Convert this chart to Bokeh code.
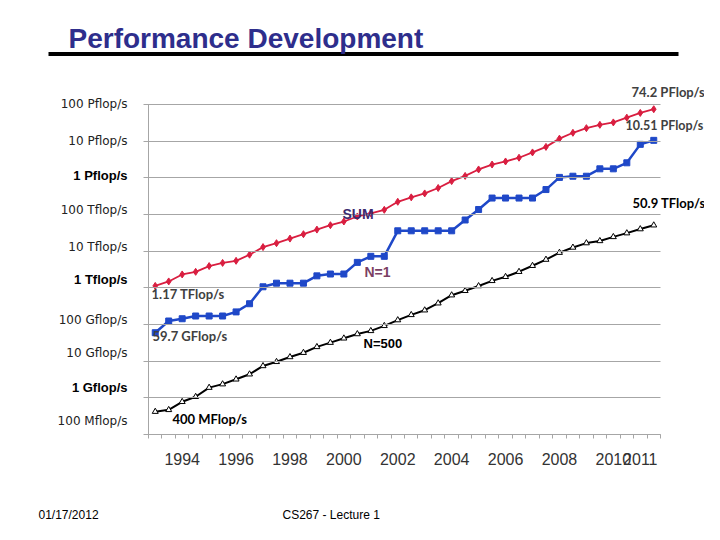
from bokeh.plotting import figure
from bokeh.models import Label, BoxAnnotation, FixedTicker, CustomJSTickFormatter, Range1d
from bokeh.embed import file_html
from bokeh.resources import INLINE

# TOP500 lists (June / November), 1993 - 2011
lists = [f"{y}-{m}" for y in range(1993, 2012) for m in ("06", "11")]

# Performance in Gflop/s
sum_gf = [1128, 1493, 2317, 2732, 3923, 4784, 5446, 7996, 12893, 16500,
          22000, 29000, 38700, 51000, 64300, 88100, 108000, 134000, 222000, 293000,
          375000, 528000, 813000, 1127000, 1690000, 2300000, 2790000, 3530000, 4920000, 6970000,
          11700000, 16900000, 22600000, 27900000, 32400000, 43700000, 58900000, 74200000]
n1_gf = [59.7, 124.5, 143.4, 170.4, 170.4, 170.4, 220.4, 368.2, 1068, 1338,
         1338, 1338, 2121, 2379, 2379, 4938, 7226, 7226, 35860, 35860,
         35860, 35860, 35860, 70720, 136800, 280600, 280600, 280600, 280600, 478200,
         1026000, 1105000, 1105000, 1759000, 1759000, 2566000, 8162000, 10510000]
n500_gf = [0.42, 0.47, 0.78, 1.07, 1.9, 2.36, 3.2, 4.4, 7.4, 9.6,
           13, 17, 24.5, 32, 42, 55, 67, 92, 132, 183,
           245, 380, 630, 830, 1120, 1550, 2000, 2750, 4000, 5900,
           9100, 12600, 16600, 19000, 24500, 31000, 40000, 50900]

year_tick_idx = [2, 6, 10, 14, 18, 22, 26, 30, 34, 36]
year_labels = ["1994", "1996", "1998", "2000", "2002", "2004", "2006", "2008", "2010", "2011"]

ytick_values = [1e8, 1e7, 1e6, 1e5, 1e4, 1e3, 1e2, 1e1, 1e0, 1e-1]
ytick_labels = ["100 Pflop/s", "10 Pflop/s", "1 Pflop/s", "100 Tflop/s", "10 Tflop/s",
                "1 Tflop/s", "100 Gflop/s", "10 Gflop/s", "1 Gflop/s", "100 Mflop/s"]
ytick_bold = [False, False, True, False, False, True, False, False, True, False]

x = list(range(len(lists)))
n = len(lists)

# Canvas 704x524; picture coords == canvas coords. Chart area x 148..660, bottom y 434.
W, H = 704, 524
OX, OY = 0, 0
CL, CR, CB = 148, 660, 434
DEC = 36.67  # px per decade
ppu = (CR - CL) / n
x0 = -0.5 - (CL - OX) / ppu
x1 = n - 0.5 + (OX + W - CR) / ppu
ylog0 = -1 - (OY + H - CB) / DEC
ylog1 = -1 + (CB - OY) / DEC

p = figure(width=W, height=H, y_axis_type="log",
           x_range=Range1d(x0, x1), y_range=Range1d(10 ** ylog0, 10 ** ylog1),
           output_backend="svg", toolbar_location=None,
           min_border_left=0, min_border_right=0, min_border_top=0, min_border_bottom=0)
p.outline_line_color = None
p.background_fill_color = "white"
p.border_fill_color = "white"
p.grid.visible = False

grid_col = "#a6a6a6"
p.yaxis.fixed_location = -0.5
p.yaxis.bounds = (1e-1, 1e8)
p.yaxis.ticker = FixedTicker(ticks=ytick_values)
p.yaxis.formatter = CustomJSTickFormatter(code="return ''")
p.yaxis.axis_line_color = grid_col
p.yaxis.major_tick_line_color = grid_col
p.yaxis.major_tick_out = 5
p.yaxis.major_tick_in = int(CR - CL)   # ticks reaching across act as grid lines
p.yaxis.minor_tick_line_color = None

p.xaxis.fixed_location = 1e-1
p.xaxis.bounds = (-0.5, n - 0.5)
p.xaxis.ticker = FixedTicker(ticks=year_tick_idx,
                             minor_ticks=[i - 0.5 for i in range(n + 1)])
p.xaxis.major_label_overrides = {t: l for t, l in zip(year_tick_idx, year_labels)}
p.xaxis.axis_line_color = grid_col
p.xaxis.major_tick_out = 0
p.xaxis.major_tick_in = 0
p.xaxis.minor_tick_out = 4
p.xaxis.minor_tick_in = 0
p.xaxis.minor_tick_line_color = grid_col
p.xaxis.major_label_standoff = 14
p.xaxis.major_label_text_font = "Liberation Sans"
p.xaxis.major_label_text_font_size = "16px"
p.xaxis.major_label_text_color = "#333333"

red = "#d91e40"
blue = "#1f48c8"
p.line(x, sum_gf, line_color=red, line_width=1.8)
p.scatter(x, sum_gf, marker="diamond", size=7, color=red)
p.line(x, n1_gf, line_color=blue, line_width=2.5)
p.scatter(x, n1_gf, marker="square", size=6, color=blue)
p.line(x, n500_gf, line_color="black", line_width=2)
p.scatter(x, n500_gf, marker="triangle", size=6, fill_color="white", line_color="black", line_width=1)


def lab(text, wx, wy, size="12px", font="Lato", style="normal", color="#404040",
        align="left", baseline="middle"):
    p.add_layout(Label(x=wx - OX, y=OY + H - wy, x_units="screen", y_units="screen", text=text,
                       text_font=font, text_font_size=size, text_font_style=style,
                       text_color=color, text_align=align, text_baseline=baseline))


# y axis labels
ylab_centers = [103, 140, 175, 209, 246, 279, 319, 352, 387, 420]
for t, b, cy in zip(ytick_labels, ytick_bold, ylab_centers):
    if b:
        lab(t, 127, cy, size="13px", font="Liberation Sans", style="bold", color="black", align="right")
    else:
        lab(t, 127, cy, size="12px", font="DejaVu Sans", style="normal", color="#222222", align="right")

# title & underline
p.add_layout(BoxAnnotation(left=48 - OX, right=678 - OX, bottom=OY + H - 55.5, top=OY + H - 51.5,
                           left_units="screen", right_units="screen", bottom_units="screen",
                           top_units="screen", fill_color="black", fill_alpha=1, line_color=None))
lab("Performance Development", 68, 38, size="28px", font="Liberation Sans", style="bold",
    color="#2e2e8c")

# annotations
lab("74.2 PFlop/s", 631, 91, size="13px", style="bold")
lab("10.51 PFlop/s", 625, 125, size="12.5px", style="bold")
lab("50.9 TFlop/s", 632, 202, size="13px", style="bold", color="black")
lab("SUM", 342, 213, size="14px", font="Liberation Sans", style="bold", color="#3b2a6e")
lab("N=1", 364, 271, size="14px", font="Liberation Sans", style="bold", color="#7b3f63")
lab("N=500", 363, 343, size="13px", font="Liberation Sans", style="bold", color="black")
lab("1.17 TFlop/s", 151, 293, size="13px", style="bold")
lab("59.7 GFlop/s", 152, 335, size="13px", style="bold")
lab("400 MFlop/s", 172, 418, size="13px", style="bold", color="black")

# footer
lab("01/17/2012", 38, 514, size="12px", font="Liberation Sans", color="black")
lab("CS267 - Lecture 1", 282, 514, size="12px", font="Liberation Sans", color="black")

open("out.html", "w").write(file_html(p, INLINE))
